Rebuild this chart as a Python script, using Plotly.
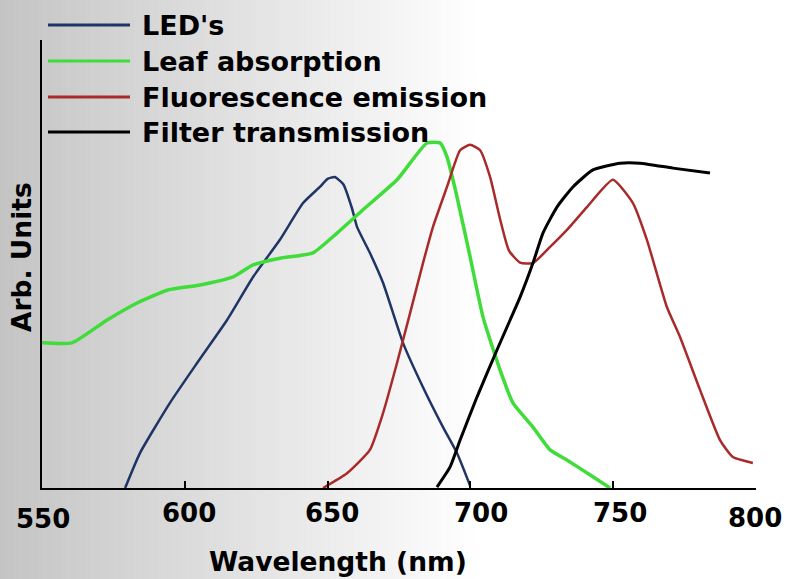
import plotly.graph_objects as go

# ---------------- data ----------------
led_nm = [579.1, 584.3, 594.8, 604.3, 614.8, 623.9, 633.3, 641.4, 647.3, 650.0,
          652.5, 655.5, 658.5, 660.3, 664.8, 669.4, 676.4, 683.4, 690.4, 695.3, 699.9]
led_val = [0.0, 0.078, 0.190, 0.279, 0.375, 0.471, 0.554, 0.636, 0.672, 0.690,
           0.694, 0.678, 0.625, 0.583, 0.525, 0.458, 0.324, 0.225, 0.136, 0.078, 0.005]

leaf_nm = [550.0, 560.5, 572.8, 583.3, 594.1, 605.3, 616.9, 623.9, 633.3, 644.9,
           653.3, 662.4, 674.3, 684.8, 689.4, 691.8, 695.3, 699.9, 704.4, 710.4,
           714.9, 721.9, 727.9, 733.8, 742.9, 748.9]
leaf_val = [0.324, 0.324, 0.375, 0.413, 0.442, 0.453, 0.471, 0.498, 0.513, 0.525,
            0.569, 0.621, 0.688, 0.770, 0.770, 0.739, 0.650, 0.516, 0.382, 0.263,
            0.190, 0.136, 0.085, 0.0625, 0.025, 0.0]

fluo_nm = [648.4, 656.8, 664.8, 669.4, 674.3, 678.9, 683.4, 686.9, 691.8, 696.4,
           699.9, 703.4, 706.9, 710.4, 713.5, 717.4, 721.9, 727.9, 733.8, 740.8,
           749.9, 756.9, 761.8, 768.8, 773.4, 780.4, 787.4, 791.9, 798.9]
fluo_val = [0.0, 0.033, 0.085, 0.167, 0.279, 0.391, 0.502, 0.583, 0.672, 0.754,
            0.766, 0.754, 0.694, 0.600, 0.530, 0.503, 0.502, 0.538, 0.576, 0.627,
            0.688, 0.636, 0.554, 0.404, 0.337, 0.219, 0.107, 0.069, 0.056]

filt_nm = [688.3, 692.9, 696.4, 702.3, 709.3, 713.9, 717.4, 721.9, 725.4, 730.3,
           735.9, 742.9, 752.4, 759.4, 770.9, 783.9]
filt_val = [0.002, 0.047, 0.107, 0.203, 0.308, 0.375, 0.426, 0.502, 0.569, 0.627,
            0.672, 0.710, 0.725, 0.725, 0.714, 0.703]

series_names = ["LED's", "Leaf absorption", "Fluorescence emission", "Filter transmission"]
series_colors = ["#1f3566", "#3fdc3a", "#a82a2a", "#000000"]
series_widths = [2.5, 3.5, 2.5, 3]

tick_values = [550, 600, 650, 700, 750, 800]
tick_labels = ["550", "600", "650", "700", "750", "800"]
tick_xshift = [1, 4, 4, 11, 7, -1]
tick_yshift = [-31, -25, -25, -25, -25, -30]

x_title = "Wavelength (nm)"
y_title = "Arb. Units"

FONT = "DejaVu Sans"

# ---------------- figure ----------------
W, H = 786, 579
ML, MR, MT, MB = 42, 30, 40, 91
PW, PH = W - ML - MR, H - MT - MB

fig = go.Figure()
xs = [led_nm, leaf_nm, fluo_nm, filt_nm]
ys = [led_val, leaf_val, fluo_val, filt_val]
for i in range(4):
    fig.add_trace(go.Scatter(
        x=xs[i], y=ys[i], mode="lines", name=series_names[i],
        line=dict(color=series_colors[i], width=series_widths[i], shape="spline",
                  smoothing=0.5),
        showlegend=False, hoverinfo="skip"))

shapes = []
# background gradient (grey on the left fading to white)
n_strips = 100
strip_w = 480 / n_strips
for k in range(n_strips):
    x0 = k * strip_w
    x1 = x0 + strip_w + 0.5
    v = int(round(196 + (255 - 196) * (x0 + strip_w / 2) / 480))
    v = min(v, 255)
    shapes.append(dict(type="rect", xref="paper", yref="paper",
                       x0=(x0 - ML) / PW, x1=(x1 - ML) / PW,
                       y0=-(MB) / PH, y1=(PH + MT) / PH,
                       fillcolor=f"rgb({v},{v},{v})", line=dict(width=0),
                       layer="below"))

# manual legend
legend_rows_px = [25, 61, 97, 132]
annotations = []
for i in range(4):
    ypx = legend_rows_px[i]
    yp = (H - MB - ypx) / PH
    shapes.append(dict(type="line", xref="paper", yref="paper",
                       x0=(48 - ML) / PW, x1=(130 - ML) / PW, y0=yp, y1=yp,
                       line=dict(color=series_colors[i], width=3)))
    annotations.append(dict(text=series_names[i], xref="paper", yref="paper",
                            x=(140 - ML) / PW, y=yp, xanchor="left", yanchor="middle",
                            showarrow=False,
                            font=dict(family=FONT, size=27, color="black", weight="bold")))

# tick labels
for v, t, dx, dy in zip(tick_values, tick_labels, tick_xshift, tick_yshift):
    annotations.append(dict(text=t, x=v, xref="x", y=0, yref="paper",
                            xanchor="center", yanchor="middle", showarrow=False,
                            xshift=dx, yshift=dy,
                            font=dict(family=FONT, size=26, color="black", weight="bold")))

# axis titles
annotations.append(dict(text=x_title, xref="paper", yref="paper",
                        x=(338 - ML) / PW, y=(H - MB - 561) / PH,
                        xanchor="center", yanchor="middle", showarrow=False,
                        font=dict(family=FONT, size=26.5, color="black", weight="bold")))
annotations.append(dict(text=y_title, xref="paper", yref="paper",
                        x=(21 - ML) / PW, y=(H - MB - 257) / PH, textangle=-90,
                        xanchor="center", yanchor="middle", showarrow=False,
                        font=dict(family=FONT, size=26.5, color="black", weight="bold")))

fig.update_layout(
    width=W, height=H,
    margin=dict(l=ML, r=MR, t=MT, b=MB, pad=0),
    paper_bgcolor="white", plot_bgcolor="rgba(0,0,0,0)",
    shapes=shapes, annotations=annotations, showlegend=False,
    xaxis=dict(range=[550, 800], showgrid=False, zeroline=False,
               showline=True, linecolor="black", linewidth=2,
               ticks="inside", ticklen=7, tickwidth=2, tickcolor="black",
               tickvals=tick_values, showticklabels=False),
    yaxis=dict(range=[0, 1], showgrid=False, zeroline=False,
               showline=True, linecolor="black", linewidth=2,
               ticks="", showticklabels=False),
)

fig.write_html("out.html", config={"displayModeBar": False},
               post_script="document.body.style.margin='0px';document.body.style.overflow='hidden';")
